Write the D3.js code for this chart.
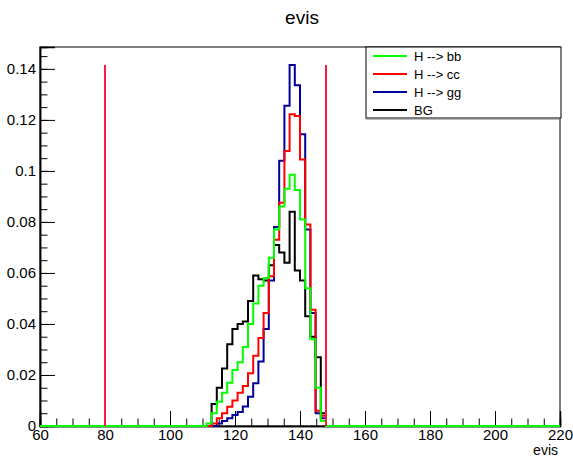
<!DOCTYPE html>
<html>
<head>
<meta charset="utf-8">
<script src="https://cdn.jsdelivr.net/npm/d3@7"></script>
<style>
  body { margin: 0; background: #fff; }
  text { font-family: "Liberation Sans", Arial, sans-serif; }
</style>
</head>
<body>
<div id="chart"></div>
<script>
// histogram binning: 100 bins from 60 to 220
const xMin = 60, xMax = 220, nBins = 100;
const firstFilledBin = 32; // bin 32 starts at 111.2

// bin contents from bin 32 (111.2) to bin 54 (146.4-148), all other bins are empty
const bgValues = [0, 0.0086, 0.0150, 0.0225, 0.032, 0.038, 0.040, 0.041, 0.049, 0.059, 0.0575, 0.057,
  0.063, 0.071, 0.068, 0.064, 0.084, 0.061, 0.057, 0.043, 0.035, 0.027, 0.005];
const bbValues = [0.001, 0.005, 0.0095, 0.013, 0.017, 0.022, 0.025, 0.031, 0.040, 0.048, 0.055, 0.058,
  0.066, 0.077, 0.086, 0.093, 0.0985, 0.0925, 0.081, 0.054, 0.034, 0.015, 0.002];
const ccValues = [0, 0.001, 0.003, 0.005, 0.0075, 0.010, 0.013, 0.0157, 0.0207, 0.0275, 0.0345, 0.0443,
  0.0587, 0.073, 0.0875, 0.1078, 0.1222, 0.1215, 0.1045, 0.079, 0.0456, 0.006, 0.004];
const ggValues = [0, 0, 0.001, 0.002, 0.003, 0.0043, 0.0055, 0.0076, 0.0115, 0.0168, 0.0253, 0.038,
  0.057, 0.078, 0.104, 0.1255, 0.1415, 0.1336, 0.1144, 0.077, 0.0443, 0.005, 0.003];

const cutValues = [80, 148];
const yTicks = [0, 0.02, 0.04, 0.06, 0.08, 0.1, 0.12, 0.14];
const xTicks = [60, 80, 100, 120, 140, 160, 180, 200, 220];

const series = [
  {name: "BG", values: bgValues, color: "#000000"},
  {name: "H --> gg", values: ggValues, color: "#000099"},
  {name: "H --> cc", values: ccValues, color: "#ff0000"},
  {name: "H --> bb", values: bbValues, color: "#00ff00"}
];
const legendOrder = ["H --> bb", "H --> cc", "H --> gg", "BG"];

const W = 573, H = 462;
const margin = {top: 47, right: 13, bottom: 36, left: 40};

const svg = d3.select("#chart").append("svg")
  .attr("width", W).attr("height", H);

const x = d3.scaleLinear().domain([xMin, xMax]).range([margin.left, W - margin.right]);
const histMax = d3.max(series, s => d3.max(s.values));
const y = d3.scaleLinear().domain([0, histMax * 1.05]).range([H - margin.bottom, margin.top]);

const binWidth = (xMax - xMin) / nBins;

// full bin contents
function fullBins(values) {
  const out = new Array(nBins).fill(0);
  values.forEach((v, i) => { out[firstFilledBin + i] = v; });
  return out;
}

// step outline of a histogram
function stepPoints(values) {
  const pts = [];
  fullBins(values).forEach((v, i) => {
    const lo = xMin + i * binWidth;
    pts.push([x(lo), y(v)]);
    pts.push([x(lo + binWidth), y(v)]);
  });
  return pts;
}

const line = d3.line();

// title
svg.append("text")
  .attr("x", 302).attr("y", 24)
  .attr("text-anchor", "middle")
  .style("font-size", "19px")
  .text("evis");

// frame
svg.append("rect")
  .attr("x", x(xMin)).attr("y", y.range()[1])
  .attr("width", x(xMax) - x(xMin))
  .attr("height", y(0) - y.range()[1])
  .attr("fill", "none")
  .attr("stroke", "#000")
  .attr("stroke-width", 1);

// y axis
const yAxis = svg.append("g").attr("transform", `translate(${x(xMin)},0)`);
yAxis.call(d3.axisLeft(y).tickValues(d3.range(0, 0.1486, 0.005)).tickSize(-7.5).tickFormat(""));
yAxis.append("g").call(d3.axisLeft(y).tickValues(yTicks).tickSize(-15).tickPadding(4)
  .tickFormat(d => String(+d.toFixed(2))));
yAxis.selectAll(".domain").attr("stroke-width", 1.5);
yAxis.selectAll("text").style("font-size", "15px").attr("fill", "#000");

// x axis
const xAxis = svg.append("g").attr("transform", `translate(0,${y(0)})`);
xAxis.call(d3.axisBottom(x).tickValues(d3.range(60, 221, 5)).tickSize(-7.5).tickFormat(""));
xAxis.append("g").call(d3.axisBottom(x).tickValues(xTicks).tickSize(-15).tickPadding(3).tickFormat(d3.format("d")));
xAxis.selectAll(".domain").attr("stroke-width", 1.5);
xAxis.selectAll("text").style("font-size", "15px").attr("fill", "#000");

svg.append("text")
  .attr("x", 558).attr("y", 455)
  .attr("text-anchor", "end")
  .style("font-size", "14px")
  .text("evis");

// histograms, drawn over the axes like ROOT does
series.forEach(s => {
  svg.append("path")
    .attr("d", line(stepPoints(s.values)))
    .attr("fill", "none")
    .attr("stroke", s.color)
    .attr("stroke-width", 2);
});

// cut lines
svg.selectAll(".cut").data(cutValues).join("line")
  .attr("class", "cut")
  .attr("x1", d => x(d)).attr("x2", d => x(d))
  .attr("y1", y(0)).attr("y2", y(histMax))
  .attr("stroke", "#ff1744")
  .attr("stroke-width", 2);

// legend
const lg = svg.append("g");
lg.append("rect")
  .attr("x", 366).attr("y", 47)
  .attr("width", 195).attr("height", 71)
  .attr("fill", "#fff")
  .attr("stroke", "#000");
lg.append("line")
  .attr("x1", 366).attr("x2", 561)
  .attr("y1", 119).attr("y2", 119)
  .attr("stroke", "#777");
legendOrder.forEach((name, i) => {
  const s = series.find(d => d.name === name);
  const yy = 56 + i * 18;
  lg.append("line")
    .attr("x1", 373).attr("x2", 407)
    .attr("y1", yy).attr("y2", yy)
    .attr("stroke", s.color).attr("stroke-width", 2);
  lg.append("text")
    .attr("x", 414).attr("y", yy + 5)
    .style("font-size", "13px")
    .text(name);
});
</script>
</body>
</html>
